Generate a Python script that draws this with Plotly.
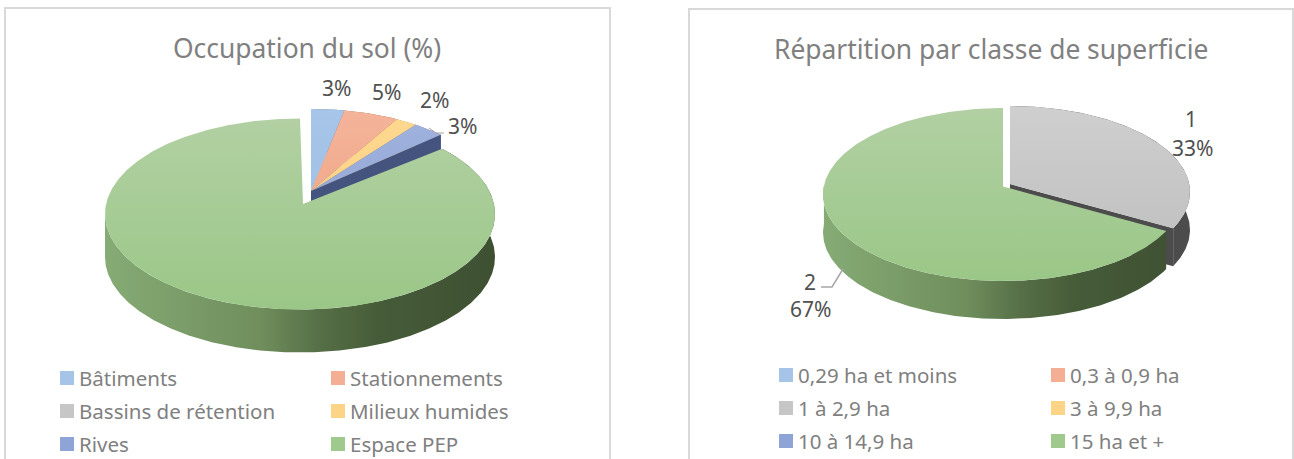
import math
import plotly.graph_objects as go

# ---------- data ----------
occupation_title = "Occupation du sol (%)"
occupation_categories = ["Bâtiments", "Stationnements", "Bassins de rétention", "Milieux humides", "Rives", "Espace PEP"]
occupation_values = [3, 5, 0, 2, 3, 87]
occupation_labels = ["3%", "5%", "", "2%", "3%", ""]

superficie_title = "Répartition par classe de superficie"
superficie_categories = ["0,29 ha et moins", "0,3 à 0,9 ha", "1 à 2,9 ha", "3 à 9,9 ha", "10 à 14,9 ha", "15 ha et +"]
superficie_values = [0, 0, 1, 0, 0, 2]
superficie_labels = ["", "", "1", "", "", "2"]
superficie_pct = ["", "", "33%", "", "", "67%"]

# ---------- styles ----------
FONT = "Noto Sans"
TITLE_C = "#808080"
LABEL_C = "#505050"
BORDER_C = "#d9d9d9"
TOP_COL = [("#a6c5e8", "#9dbde3"), ("#f4b49a", "#efa180"), ("#cfcfcf", "#bdbdbd"),
           ("#fdd88f", "#fdd084"), ("#a0b2dd", "#8fa4d6"), ("#b2d0a3", "#9ac787")]
END_COL = ["#55739c", "#9c5f45", "#4c4c4c", "#a88a45", "#44547f", "#3e5032"]
SWATCH = ["#a5c4e8", "#f4ae93", "#c6c6c6", "#fdd385", "#8fa4d6", "#9fc98d"]
SIDE_GREEN = [[0, "#86ab75"], [0.4, "#6f8e5c"], [0.55, "#566f47"], [0.7, "#465c39"], [1, "#3e5032"]]

fig = go.Figure()


def arc(cx, cy, rx, ry, a, b, dy=0.0, warp=0.0):
    n = max(2, int(abs(b - a) * 1.5))
    xs, ys = [], []
    for i in range(n + 1):
        t = a + (b - a) * i / n
        p = math.radians(t + warp * math.sin(math.radians(t)))
        xs.append(cx + rx * math.sin(p))
        ys.append(cy - ry * math.cos(p) + dy)
    return xs, ys


def warp_pt(cx, cy, rx, ry, t, warp):
    p = math.radians(t + warp * math.sin(math.radians(t)))
    return cx + rx * math.sin(p), cy - ry * math.cos(p)


def poly(xs, ys, color=None, grad=None):
    kw = dict(x=xs + xs[:1], y=ys + ys[:1], mode="lines", fill="toself", line=dict(width=0),
              hoverinfo="skip", showlegend=False)
    if grad is not None:
        kw["fillgradient"] = grad
        kw["fillcolor"] = "rgba(0,0,0,0)"
    else:
        kw["fillcolor"] = color
    fig.add_trace(go.Scatter(**kw))


def pie(values, geom, depth, warp=0.0):
    """geom[i] = (cx, cy, rx, ry, apex_x, apex_y); angles come from values"""
    total = sum(values)
    start = 0.0
    for i, v in enumerate(values):
        if v == 0:
            continue
        stop = start + 360.0 * v / total
        cx, cy, rx, ry, ax, ay = geom[i]
        side_to = min(stop, 270.0)
        is_big = stop >= 359.9
        # outer side
        xs, ys = arc(cx, cy, rx, ry, start, side_to, 0, warp)
        xb, yb = arc(cx, cy, rx, ry, start, side_to, depth, warp)
        if is_big:
            poly(xs + xb[::-1], ys + yb[::-1],
                 grad=dict(type="horizontal", start=cx - rx, stop=cx + rx, colorscale=SIDE_GREEN))
        else:
            poly(xs + xb[::-1], ys + yb[::-1], END_COL[i])
        # cut face at the clockwise end of the slice
        if not is_big and stop < 180:
            ex, ey = warp_pt(cx, cy, rx, ry, stop, warp)
            poly([ax, ex, ex, ax], [ay, ey, ey + depth, ay + depth], END_COL[i])
        # top face
        xs, ys = arc(cx, cy, rx, ry, start, stop, 0, warp)
        poly([ax] + xs, [ay] + ys,
             grad=dict(type="vertical", start=cy - ry, stop=cy + ry,
                       colorscale=[[0, TOP_COL[i][0]], [1, TOP_COL[i][1]]]))
        start = stop


def text(x, y, s, size, color, anchor="center"):
    fig.add_annotation(x=x, y=y, text=s, showarrow=False, xanchor=anchor, yanchor="middle",
                       font=dict(family=FONT, size=size, color=color), xref="x", yref="y")


def legend(cats, xs, ys, gap):
    for i, c in enumerate(cats):
        col = i % 2
        row = i // 2
        fig.add_trace(go.Scatter(x=[xs[col]], y=[ys[row]], mode="markers", hoverinfo="skip", showlegend=False,
                                 marker=dict(symbol="square", size=14, color=SWATCH[i], line=dict(width=0))))
        text(xs[col] + gap, ys[row], c, 20.5, TITLE_C, "left")


def line(xs, ys, color, width):
    fig.add_trace(go.Scatter(x=xs, y=ys, mode="lines", hoverinfo="skip", showlegend=False,
                             line=dict(color=color, width=width)))


# panels
line([5, 5, 610, 610], [459, 8, 8, 459], BORDER_C, 2)
line([689, 689, 1293, 1293], [459, 9, 9, 459], BORDER_C, 2)

# left pie
small = (311, 191, 178, 82, 311, 191)
big = (300, 214, 195, 95.5, 303, 204)
pie(occupation_values, [small, small, small, small, small, big], 43)

# right pie
grey = (1010, 192, 180, 86, 1010, 184)
green = (1003, 194.5, 180, 86.5, 1003, 186.5)
pie(superficie_values, [grey, grey, grey, grey, grey, green], 38, warp=-5.8)

# leaders
line([429, 436, 444], [128, 133, 133], "#a6a6a6", 1)
line([843, 832, 821], [269, 287, 287], "#a6a6a6", 1.5)

# titles
text(307, 48, occupation_title, 26.4, TITLE_C)
text(991, 49, superficie_title, 26.4, TITLE_C)

# data labels
occ_pos = [(336, 88), (386, 92), None, (434, 100), (462, 126), None]
for lab, p in zip(occupation_labels, occ_pos):
    if lab:
        text(p[0], p[1], lab, 21, LABEL_C)
sup_pos = [None, None, ((1191, 119), (1192, 148)), None, None, ((810, 282), (810, 309))]
for lab, pct, p in zip(superficie_labels, superficie_pct, sup_pos):
    if lab:
        text(p[0][0], p[0][1], lab, 21, LABEL_C)
        text(p[1][0], p[1][1], pct, 21, LABEL_C)

# legends
legend(occupation_categories, [67, 338], [378, 411, 444], 10)
legend(superficie_categories, [786, 1058], [375, 408, 441], 10)

fig.update_layout(
    width=1294, height=459, margin=dict(l=0, r=0, t=0, b=0),
    paper_bgcolor="white", plot_bgcolor="white", showlegend=False,
    xaxis=dict(range=[0, 1294], visible=False, fixedrange=True),
    yaxis=dict(range=[459, 0], visible=False, fixedrange=True),
)
fig.write_html("out.html", config={"displayModeBar": False},
               post_script="document.body.style.margin='0';document.body.style.overflow='hidden';")
